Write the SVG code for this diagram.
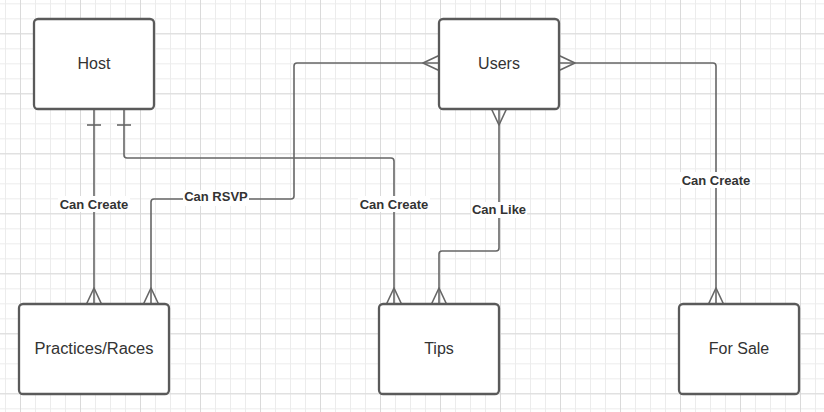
<svg xmlns="http://www.w3.org/2000/svg" width="824" height="412" viewBox="0 0 824 412">
<defs>
<pattern id="minor" width="15" height="15" patternUnits="userSpaceOnUse" x="5" y="3.3">
<path d="M0.5 0V15M0 0.5H15" fill="none" stroke="#ececec" stroke-width="1"/>
</pattern>
<pattern id="major" width="60" height="60" patternUnits="userSpaceOnUse" x="20" y="33.3">
<path d="M0.5 0V60M0 0.5H60" fill="none" stroke="#dadada" stroke-width="1"/>
</pattern>
</defs>
<style>
.box{fill:#fff;stroke:#5a5a5a;stroke-width:2.3}
.t{font-family:"Liberation Sans",Arial,sans-serif;font-size:16px;fill:#333;text-anchor:middle}
.ln{fill:none;stroke:#666;stroke-width:1.6;stroke-linejoin:round}
.lb{font-family:"Liberation Sans",Arial,sans-serif;font-size:13px;font-weight:bold;fill:#333;text-anchor:middle}
.lbg{fill:#fff}
</style>
<rect width="824" height="412" fill="#fff"/>
<rect width="824" height="412" fill="url(#minor)"/>
<rect width="824" height="412" fill="url(#major)"/>

<g id="connectors">
<!-- Host -> Practices -->
<g id="c-host-practices">
<path class="ln" d="M94 109V304"/>
<path class="ln" d="M87 125H101"/>
<path class="ln" d="M86.5 304L94 288L101.5 304"/>
<rect class="lbg" x="58" y="196" width="72" height="16"/>
<text class="lb" x="94" y="209">Can Create</text>
</g>
<!-- Host -> Tips -->
<g id="c-host-tips">
<path class="ln" d="M124 109V155Q124 158 127 158H391Q394 158 394 161V304"/>
<path class="ln" d="M117 125H131"/>
<path class="ln" d="M386.5 304L394 288L401.5 304"/>
<rect class="lbg" x="358" y="196" width="72" height="16"/>
<text class="lb" x="394" y="209">Can Create</text>
</g>
<!-- Users -> Practices (RSVP) -->
<g id="c-users-practices">
<path class="ln" d="M439 63H297Q294 63 294 66V196Q294 199 291 199H154Q151 199 151 202V304"/>
<path class="ln" d="M439 55.5L423 63L439 70.5"/>
<path class="ln" d="M143.5 304L151 288L158.5 304"/>
<rect class="lbg" x="183" y="190" width="66" height="16"/>
<text class="lb" x="216" y="201">Can RSVP</text>
</g>
<!-- Users -> Tips (Like) -->
<g id="c-users-tips">
<path class="ln" d="M499 109V248Q499 251 496 251H442Q439 251 439 254V304"/>
<path class="ln" d="M491.5 109L499 125L506.5 109"/>
<path class="ln" d="M431.5 304L439 288L446.5 304"/>
<rect class="lbg" x="471" y="202" width="56" height="16"/>
<text class="lb" x="499" y="214">Can Like</text>
</g>
<!-- Users -> For Sale -->
<g id="c-users-forsale">
<path class="ln" d="M559 63H713Q716 63 716 66V304"/>
<path class="ln" d="M559 55.5L575 63L559 70.5"/>
<path class="ln" d="M708.5 304L716 288L723.5 304"/>
<rect class="lbg" x="680" y="172" width="72" height="16"/>
<text class="lb" x="716" y="185">Can Create</text>
</g>
</g>

<g id="host"><rect class="box" x="34" y="19" width="120" height="90" rx="4"/><text class="t" x="94" y="69">Host</text></g>
<g id="users"><rect class="box" x="439" y="19" width="120" height="90" rx="4"/><text class="t" x="499" y="69">Users</text></g>
<g id="practices"><rect class="box" x="19" y="304" width="150" height="90" rx="4"/><text class="t" x="94" y="354" textLength="119" lengthAdjust="spacingAndGlyphs">Practices/Races</text></g>
<g id="tips"><rect class="box" x="379" y="304" width="120" height="90" rx="4"/><text class="t" x="439" y="354">Tips</text></g>
<g id="forsale"><rect class="box" x="679" y="304" width="120" height="90" rx="4"/><text class="t" x="739" y="354">For Sale</text></g>
</svg>
